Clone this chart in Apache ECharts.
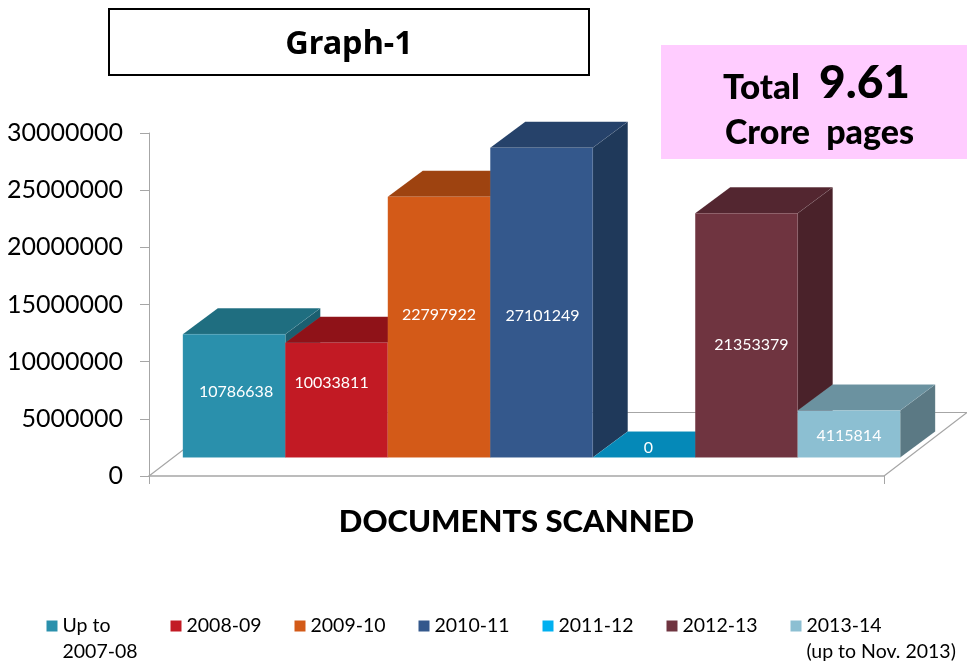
<!DOCTYPE html>
<html>
<head>
<meta charset="utf-8">
<title>Graph-1</title>
<script src="https://cdn.jsdelivr.net/npm/echarts@6/dist/echarts.min.js"></script>
<style>
html, body { margin: 0; padding: 0; background: #fff; }
#main { width: 967px; height: 666px; }
</style>
</head>
<body>
<div id="main"></div>
<script>
var categories = ['DOCUMENTS SCANNED'];
var seriesNames = ['Up to\n2007-08', '2008-09', '2009-10', '2010-11', '2011-12', '2012-13', '2013-14\n(up to Nov. 2013)'];
var seriesValues = [10786638, 10033811, 22797922, 27101249, 0, 21353379, 4115814];
var yTicks = { min: 0, max: 30000000, interval: 5000000 };

var legendColors = ['#2A90AC', '#C21A24', '#D35A18', '#34588C', '#00B0F0', '#6F3440', '#8CBFD2'];
var frontColors = ['#2A90AC', '#C21A24', '#D35A18', '#34588C', '#0589B8', '#6F3440', '#8CBFD2'];
var topColors = ['#1F6E80', '#8F1218', '#9E4310', '#26426A', '#0589B8', '#532630', '#6B92A0'];
var sideColors = ['#1B5F70', '#7A0F14', '#88390E', '#1F395A', '#04709A', '#4A222A', '#5B7984'];

// the data labels were hand moved in the original, so nudge them by the same amount
var labelNudge = [[2, -4], [-5, -17], [0, -12], [1, 13], [-13, 3], [5, 9], [0, 2]];

var FONT = 'Lato, sans-serif';
var AXIS_GRAY = '#A6A6A6';
// depth of the floor, the bars sit in the middle of it
var FLOOR_DX = 83, FLOOR_DY = 63.5;
var BAR_DX = 35, BAR_DY = 26;
var GAP_DX = 25, GAP_DY = 18.5;
var BAR_SHARE = 0.976;

var myChart = echarts.init(document.getElementById('main'), null, { renderer: 'canvas' });

var floorItem = function (params, api) {
    var c = api.coord([0, 0]);
    var band = api.size([1, 0])[0];
    var l = c[0] - band / 2, r = c[0] + band / 2, y = c[1];
    return {
        type: 'polyline',
        shape: { points: [[l, y], [l + FLOOR_DX, y - FLOOR_DY], [r + FLOOR_DX, y - FLOOR_DY], [r, y]] },
        style: { fill: null, stroke: AXIS_GRAY, lineWidth: 1.2 }
    };
};

var barItem = function (i) {
    return function (params, api) {
        var base = api.coord([0, 0]);
        var top = api.coord([0, api.value(1)]);
        var band = api.size([1, 0])[0];
        var w = band * BAR_SHARE / seriesValues.length;
        var x0 = base[0] + GAP_DX - band * BAR_SHARE / 2 + i * w;
        var x1 = x0 + w;
        var y0 = base[1] - GAP_DY;
        var y1 = top[1] - GAP_DY;
        var flat = y0 - y1 <= 0;
        var edge = { lineWidth: 0.5, stroke: 'rgba(255,255,255,0.1)' };
        var kids = [];
        if (!flat) {
            kids.push({
                type: 'polygon',
                shape: { points: [[x1, y1], [x1 + BAR_DX, y1 - BAR_DY], [x1 + BAR_DX, y0 - BAR_DY], [x1, y0]] },
                style: Object.assign({ fill: sideColors[i] }, edge)
            });
        }
        kids.push({
            type: 'polygon',
            shape: { points: [[x0, y1], [x0 + BAR_DX, y1 - BAR_DY], [x1 + BAR_DX, y1 - BAR_DY], [x1, y1]] },
            style: Object.assign({ fill: topColors[i] }, edge)
        });
        if (!flat) {
            kids.push({
                type: 'rect',
                shape: { x: x0, y: y1, width: w, height: y0 - y1 },
                style: Object.assign({ fill: frontColors[i] }, edge)
            });
        }
        kids.push({
            type: 'text',
            // a zero bar has only its top face, so the label goes there
            x: (x0 + x1) / 2 + labelNudge[i][0] + (flat ? BAR_DX / 2 : 0),
            y: (y0 + y1) / 2 + labelNudge[i][1] - (flat ? BAR_DY / 2 : 0),
            style: {
                text: String(api.value(1)),
                fill: '#fff',
                font: '16px ' + FONT,
                align: 'center',
                verticalAlign: 'middle'
            }
        });
        return { type: 'group', children: kids };
    };
};

var series = [{
    type: 'custom',
    name: 'floor',
    silent: true,
    z: 1,
    renderItem: floorItem,
    data: [[0, 0]]
}];
for (var i = 0; i < seriesNames.length; i++) {
    series.push({
        type: 'custom',
        name: seriesNames[i],
        z: 2 + i,
        clip: false,
        itemStyle: { color: legendColors[i] },
        renderItem: barItem(i),
        encode: { x: 0, y: 1 },
        data: [[0, seriesValues[i]]]
    });
}

var option = {
    animation: false,
    backgroundColor: '#fff',
    grid: { left: 149, top: 133, width: 735, height: 343 },
    xAxis: {
        type: 'category',
        data: categories,
        axisLine: { lineStyle: { color: AXIS_GRAY, width: 1.5 } },
        axisTick: { show: true, length: 8, lineStyle: { color: AXIS_GRAY } },
        axisLabel: { margin: 30, color: '#000', fontFamily: FONT, fontWeight: 900, fontSize: 31 }
    },
    yAxis: {
        type: 'value',
        min: yTicks.min,
        max: yTicks.max,
        interval: yTicks.interval,
        splitLine: { show: false },
        axisLine: { show: true, lineStyle: { color: AXIS_GRAY } },
        axisTick: { show: true, length: 9, lineStyle: { color: AXIS_GRAY } },
        axisLabel: {
            margin: 26,
            color: '#000',
            fontFamily: FONT,
            fontSize: 25,
            padding: [7, 0, 0, 0],
            formatter: function (v) { return String(v); }
        }
    },
    legend: {
        left: 41.5,
        top: 582,
        width: 925,
        data: seriesNames,
        icon: 'rect',
        itemWidth: 11,
        itemHeight: 11,
        itemGap: 12,
        selectedMode: false,
        // blank first line keeps the first real line level with the marker
        formatter: function (name) {
            return name.indexOf('\n') >= 0 ? '\n' + name : name;
        },
        textStyle: { color: '#000', fontFamily: FONT, fontSize: 19.5, lineHeight: 26, width: 96 }
    },
    graphic: [
        {
            type: 'rect',
            shape: { x: 109, y: 9, width: 480, height: 66 },
            style: { fill: '#fff', stroke: '#000', lineWidth: 2 }
        },
        {
            type: 'text',
            x: 349,
            y: 45,
            style: { text: 'Graph-1', fill: '#000', font: 'bold 32.5px "Noto Sans", sans-serif', align: 'center', verticalAlign: 'middle' }
        },
        {
            type: 'rect',
            z: 100,
            shape: { x: 661, y: 45, width: 306, height: 114 },
            style: { fill: '#FFCCFF' }
        },
        {
            type: 'text',
            z: 101,
            x: 723,
            y: 105,
            style: { text: 'Total', fill: '#000', font: '900 35px ' + FONT, align: 'left', verticalAlign: 'bottom' }
        },
        {
            type: 'text',
            z: 101,
            x: 819,
            y: 106,
            style: { text: '9.61', fill: '#000', font: '900 46px ' + FONT, align: 'left', verticalAlign: 'bottom' }
        },
        {
            type: 'text',
            z: 101,
            x: 725,
            y: 150,
            style: { text: 'Crore  pages', fill: '#000', font: '900 34px ' + FONT, align: 'left', verticalAlign: 'bottom' }
        }
    ],
    series: series
};
myChart.setOption(option);
</script>
</body>
</html>
